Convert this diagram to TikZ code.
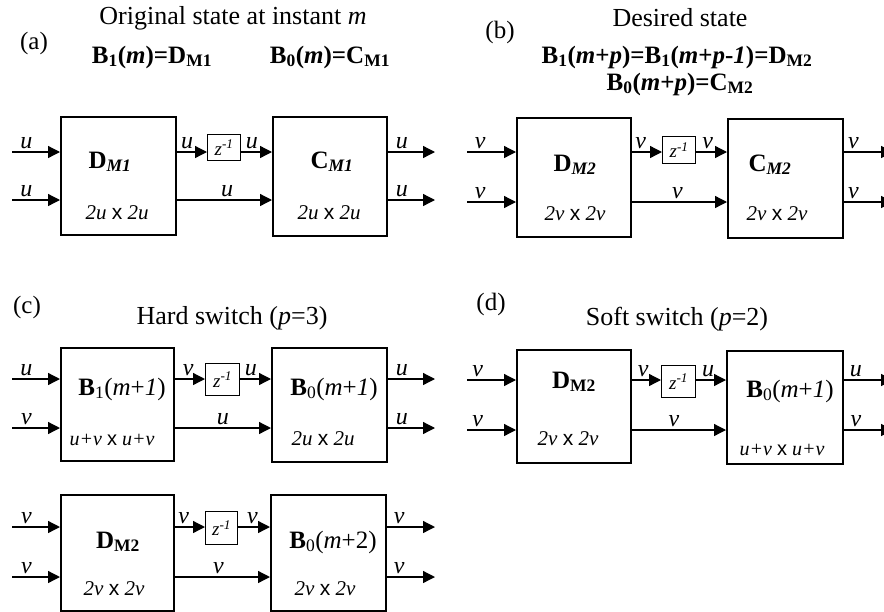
\documentclass[tikz,border=0pt]{standalone}
\usepackage{fontspec}
\setmainfont{Liberation Serif}
\setsansfont{Liberation Sans}
\usetikzlibrary{
  arrows.meta,
  positioning
}
\newcommand{\bx}{\textup{\sffamily x}}

\begin{document}
\begin{tikzpicture}[
  x=1pt, y=-1pt,
  blk/.style={draw, line width=1.5pt, inner sep=0pt, anchor=north west},
  dly/.style={draw, line width=1.2pt, inner sep=0pt, anchor=north west,
    font=\fontsize{19}{22}\selectfont\itshape},
  sig/.style={-{Triangle[length=12pt,width=12pt]}, line width=1.3pt},
  lbl/.style={font=\fontsize{24}{28}\selectfont\itshape, above=3pt, inner sep=0pt},
  ttl/.style={font=\fontsize{26}{30}\selectfont, anchor=base},
  eqn/.style={font=\fontsize{25}{28}\selectfont\bfseries, anchor=base},
  pnl/.style={font=\fontsize{25}{30}\selectfont, anchor=base},
  blkname/.style={font=\fontsize{25}{30}\selectfont, anchor=base},
  dim/.style={font=\fontsize{21}{25}\selectfont\itshape, anchor=base},
  dimw/.style={font=\fontsize{20}{24}\selectfont\itshape, anchor=base},
]
\useasboundingbox (0,0) rectangle (884,611);

% (a) original state
\node[pnl] (pnlA) at (34,49) {(a)};
\node[ttl] (ttlA) at (233,24) {Original state at instant \textit{m}};
\node[eqn] (eqA1) at (152,63) {B\textsubscript{1}(\textit{m})=D\textsubscript{M1}};
\node[eqn] (eqA0) at (330,63) {B\textsubscript{0}(\textit{m})=C\textsubscript{M1}};

\node[blk, minimum width=115pt, minimum height=118pt] (dA) at (60,116) {};
\node[dly, minimum width=33pt, minimum height=26pt] (zA) at (207,134) {z\textsuperscript{-1}};
\node[blk, minimum width=114pt, minimum height=119pt] (cA) at (272,116) {};
\node[blkname] (nDA) at (110,168) {\textbf{D}\textsubscript{\textbf{\textit{M1}}}};
\node[blkname] (nCA) at (332,168) {\textbf{C}\textsubscript{\textbf{\textit{M1}}}};
\node[dim] (sDA) at (117,219) {2u \bx{} 2u};
\node[dim] (sCA) at (329,219) {2u \bx{} 2u};

\coordinate (inA1) at (12,152);
\coordinate (inA2) at (12,200);
\coordinate (outA1) at (435,152);
\coordinate (outA2) at (435,200);
\draw[sig] (inA1) -- node[lbl, pos=.3] (uA1) {u} (dA.west |- inA1);
\draw[sig] (inA2) -- node[lbl, pos=.3] (uA2) {u} (dA.west |- inA2);
\draw[sig] (dA.east |- inA1) -- node[lbl, pos=.35] (uA3) {u} (zA.west |- inA1);
\draw[sig] (zA.east |- inA1) -- node[lbl, pos=.35] (uA4) {u} (cA.west |- inA1);
\draw[sig] (dA.east |- inA2) -- node[lbl, pos=.53] (uA5) {u} (cA.west |- inA2);
\draw[sig] (cA.east |- outA1) -- node[lbl, pos=.3] (uA6) {u} (outA1);
\draw[sig] (cA.east |- outA2) -- node[lbl, pos=.3] (uA7) {u} (outA2);

% (b) desired state
\node[pnl] (pnlB) at (500,38) {(b)};
\node[ttl] (ttlB) at (680,26) {Desired state};
\node[eqn] (eqB1) at (677,63) {B\textsubscript{1}(\textit{m}+\textit{p})=B\textsubscript{1}(\textit{m}+\textit{p}-\textit{1})=D\textsubscript{M2}};
\node[eqn] (eqB0) at (680,90) {B\textsubscript{0}(\textit{m}+\textit{p})=C\textsubscript{M2}};

\node[blk, minimum width=114pt, minimum height=119pt] (dB) at (516,117) {};
\node[dly, minimum width=33pt, minimum height=27pt] (zB) at (662,136) {z\textsuperscript{-1}};
\node[blk, minimum width=115pt, minimum height=119pt] (cB) at (727,118) {};
\node[blkname] (nDB) at (575,171) {\textbf{D}\textsubscript{\textbf{\textit{M2}}}};
\node[blkname] (nCB) at (770,171) {\textbf{C}\textsubscript{\textbf{\textit{M2}}}};
\node[dim] (sDB) at (575,220) {2v \bx{} 2v};
\node[dim] (sCB) at (777,220) {2v \bx{} 2v};

\coordinate (inB1) at (467,152);
\coordinate (inB2) at (467,202);
\coordinate (outB1) at (893,152);
\coordinate (outB2) at (893,202);
\draw[sig] (inB1) -- node[lbl, pos=.27] (vB1) {v} (dB.west |- inB1);
\draw[sig] (inB2) -- node[lbl, pos=.27] (vB2) {v} (dB.west |- inB2);
\draw[sig] (dB.east |- inB1) -- node[lbl, pos=.3] (vB3) {v} (zB.west |- inB1);
\draw[sig] (zB.east |- inB1) -- node[lbl, pos=.37] (vB4) {v} (cB.west |- inB1);
\draw[sig] (dB.east |- inB2) -- node[lbl, pos=.48] (vB5) {v} (cB.west |- inB2);
\draw[sig] (cB.east |- outB1) -- node[lbl, pos=.2] (vB6) {v} (outB1);
\draw[sig] (cB.east |- outB2) -- node[lbl, pos=.2] (vB7) {v} (outB2);

% (c) hard switch
\node[pnl] (pnlC) at (27,313) {(c)};
\node[ttl] (ttlC) at (232,324) {Hard switch (\textit{p}=3)};

\node[blk, minimum width=113pt, minimum height=113pt] (bC1) at (60,347) {};
\node[dly, minimum width=34pt, minimum height=32pt] (zC) at (205,363) {z\textsuperscript{-1}};
\node[blk, minimum width=115pt, minimum height=114pt] (bC0) at (271,347) {};
\node[blkname] (nBC1) at (122,395) {\textbf{B}\textsubscript{1}(\textit{m}+\textit{1})};
\node[blkname] (nBC0) at (334,395) {\textbf{B}\textsubscript{0}(\textit{m}+\textit{1})};
\node[dimw] (sBC1) at (112,445) {u+v \bx{} u+v};
\node[dim] (sBC0) at (323,445) {2u \bx{} 2u};

\coordinate (inC1) at (12,379);
\coordinate (inC2) at (12,428);
\coordinate (outC1) at (435,379);
\coordinate (outC2) at (435,428);
\draw[sig] (inC1) -- node[lbl, pos=.3] (uC1) {u} (bC1.west |- inC1);
\draw[sig] (inC2) -- node[lbl, pos=.3] (vC2) {v} (bC1.west |- inC2);
\draw[sig] (bC1.east |- inC1) -- node[lbl, pos=.45] (vC3) {v} (zC.west |- inC1);
\draw[sig] (zC.east |- inC1) -- node[lbl, pos=.35] (uC4) {u} (bC0.west |- inC1);
\draw[sig] (bC1.east |- inC2) -- node[lbl, pos=.5] (uC5) {u} (bC0.west |- inC2);
\draw[sig] (bC0.east |- outC1) -- node[lbl, pos=.3] (uC6) {u} (outC1);
\draw[sig] (bC0.east |- outC2) -- node[lbl, pos=.3] (uC7) {u} (outC2);

\node[blk, minimum width=113pt, minimum height=116pt] (dC2) at (60,494) {};
\node[dly, minimum width=32pt, minimum height=33pt] (zC2) at (205,511) {z\textsuperscript{-1}};
\node[blk, minimum width=115pt, minimum height=116pt] (bC2) at (270,494) {};
\node[blkname] (nDC2) at (118,548) {\textbf{D}\textsubscript{\textbf{M2}}};
\node[blkname] (nBC2) at (333,548) {\textbf{B}\textsubscript{0}(\textit{m}+2)};
\node[dim] (sDC2) at (114,595) {2v \bx{} 2v};
\node[dim] (sBC2) at (325,595) {2v \bx{} 2v};

\coordinate (inD1) at (12,527);
\coordinate (inD2) at (12,577);
\coordinate (outD1) at (435,527);
\coordinate (outD2) at (435,577);
\draw[sig] (inD1) -- node[lbl, pos=.3] (vD1) {v} (dC2.west |- inD1);
\draw[sig] (inD2) -- node[lbl, pos=.3] (vD2) {v} (dC2.west |- inD2);
\draw[sig] (dC2.east |- inD1) -- node[lbl, pos=.3] (vD3) {v} (zC2.west |- inD1);
\draw[sig] (zC2.east |- inD1) -- node[lbl, pos=.45] (vD4) {v} (bC2.west |- inD1);
\draw[sig] (dC2.east |- inD2) -- node[lbl, pos=.46] (vD5) {v} (bC2.west |- inD2);
\draw[sig] (bC2.east |- outD1) -- node[lbl, pos=.26] (vD6) {v} (outD1);
\draw[sig] (bC2.east |- outD2) -- node[lbl, pos=.26] (vD7) {v} (outD2);

% (d) soft switch
\node[pnl] (pnlD) at (491,310) {(d)};
\node[ttl] (ttlD) at (677,325) {Soft switch (\textit{p}=2)};

\node[blk, minimum width=114pt, minimum height=113pt] (dD) at (516,349) {};
\node[dly, minimum width=34pt, minimum height=32pt] (zD) at (661,365) {z\textsuperscript{-1}};
\node[blk, minimum width=116pt, minimum height=113pt] (bD) at (726,350) {};
\node[blkname] (nDD) at (574,388) {\textbf{D}\textsubscript{\textbf{M2}}};
\node[blkname] (nBD) at (790,397) {\textbf{B}\textsubscript{0}(\textit{m}+\textit{1})};
\node[dim] (sDD) at (568,445) {2v \bx{} 2v};
\node[dimw] (sBD) at (782,455) {u+v \bx{} u+v};

\coordinate (inE1) at (467,380);
\coordinate (inE2) at (467,430);
\coordinate (outE1) at (893,380);
\coordinate (outE2) at (893,430);
\draw[sig] (inE1) -- node[lbl, pos=.22] (vE1) {v} (dD.west |- inE1);
\draw[sig] (inE2) -- node[lbl, pos=.22] (vE2) {v} (dD.west |- inE2);
\draw[sig] (dD.east |- inE1) -- node[lbl, pos=.4] (vE3) {v} (zD.west |- inE1);
\draw[sig] (zD.east |- inE1) -- node[lbl, pos=.4] (uE4) {u} (bD.west |- inE1);
\draw[sig] (dD.east |- inE2) -- node[lbl, pos=.45] (vE5) {v} (bD.west |- inE2);
\draw[sig] (bD.east |- outE1) -- node[lbl, pos=.25] (uE6) {u} (outE1);
\draw[sig] (bD.east |- outE2) -- node[lbl, pos=.25] (vE7) {v} (outE2);

\end{tikzpicture}
\end{document}
